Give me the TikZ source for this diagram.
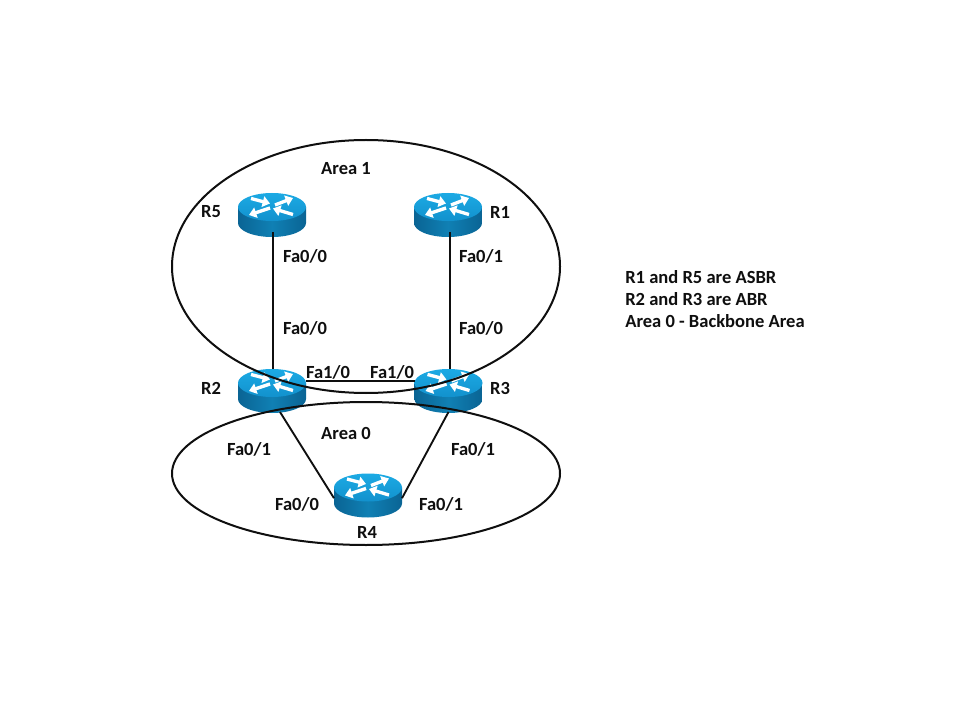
\documentclass[tikz,border=0pt]{standalone}
\usepackage{fontspec}
\setmainfont{Carlito}
\usetikzlibrary{arrows.meta}
\definecolor{routertop}{RGB}{28,170,228}
\definecolor{routertopdark}{RGB}{18,145,205}
\definecolor{routerbody}{RGB}{16,128,180}
\definecolor{routerbodydark}{RGB}{10,100,148}
\definecolor{ink}{RGB}{15,15,15}
\tikzset{
  x=0.75pt, y=-0.75pt,
  area/.style={draw=ink, line width=1.5pt},
  link/.style={draw=ink, line width=1.4pt},
  routerbox/.style={minimum width=51pt, minimum height=33pt, inner sep=0pt, outer sep=0pt},
  lbl/.style={font=\bfseries\fontsize{13.9}{16}\selectfont, text=ink, inner sep=0pt},
  flow/.style={white, line width=2.5pt, -{Triangle[width=8pt,length=5.5pt]}},
  router/.pic={
    % body: lower half of a flattened cylinder
    \shade[left color=routerbodydark, right color=routerbodydark, middle color=routerbody]
      (-34,-8) -- (-34,8) arc[start angle=180, end angle=0, x radius=34, y radius=14]
      -- (34,-8) -- cycle;
    % top face
    \shade[top color=routertop, bottom color=routertopdark]
      (0,-8) ellipse[x radius=34, y radius=14];
    % the four routing arrows
    \draw[flow] (-21,-16.5) -- (-2,-11.5);
    \draw[flow] (3,-10) -- (21,-17);
    \draw[flow] (-2,-7) -- (-23,0);
    \draw[flow] (21,-0.5) -- (1,-6.5);
  }
}
\begin{document}
\begin{tikzpicture}
  \useasboundingbox[fill=white] (0,0) rectangle (960,720);

  % routers
  \node[routerbox] (R5) at (272,215) {};
  \node[routerbox] (R1) at (448,215) {};
  \node[routerbox] (R2) at (272,391) {};
  \node[routerbox] (R3) at (448.5,391) {};
  \node[routerbox] (R4) at (368,495.5) {};
  \foreach \n in {R5,R1,R2,R3,R4} \pic at (\n) {router};

  % links between routers
  \coordinate (r5s) at ([xshift=1.1pt]R5.south);
  \coordinate (r1s) at ([xshift=1.4pt]R1.south);
  \draw[link, line width=1.5pt, shorten <=-3.5pt] (r5s) -- (r5s |- R2.north);
  \draw[link, shorten <=-3.5pt] (r1s) -- (r1s |- R3.north);
  \draw[link] (R2.east) ++(0,-10) coordinate (r2e) -- (r2e -| R3.west);
  \coordinate (r2s) at ([xshift=6pt]R2.south);
  \coordinate (r3s) at ([xshift=0pt]R3.south);
  \coordinate (r4w) at ([yshift=-2pt]R4.west);
  \coordinate (r4e) at ([yshift=-2pt]R4.east);
  \draw[link] (r2s) ++(0,-1) -- (r4w);
  \draw[link] (r3s) ++(0,-1) -- (r4e);

  % areas
  \node[inner sep=0pt] (a1) at (366,266.5) {};
  \node[inner sep=0pt] (a0) at (366,473.5) {};
  \draw[area] (a1) ellipse[x radius=194, y radius=126.5];
  \draw[area] (a0) ellipse[x radius=194, y radius=71.5];

  % labels
  \node[lbl] (tA1) at (346,169) {Area 1};
  \node[lbl] (tA0) at (346,433) {Area 0};
  \node[lbl] (t5) at (211,212) {R5};
  \node[lbl] (t1) at (500,212) {R1};
  \node[lbl] (t2) at (211,388) {R2};
  \node[lbl] (t3) at (500,388) {R3};
  \node[lbl] (t4) at (367,532) {R4};
  \node[lbl] (p1) at (305,256) {Fa0/0};
  \node[lbl] (p2) at (481,256) {Fa0/1};
  \node[lbl] (p3) at (305,328) {Fa0/0};
  \node[lbl] (p4) at (481,328) {Fa0/0};
  \node[lbl] (p5) at (328,372) {Fa1/0};
  \node[lbl] (p6) at (392,372) {Fa1/0};
  \node[lbl] (p7) at (249,449) {Fa0/1};
  \node[lbl] (p8) at (473,449) {Fa0/1};
  \node[lbl] (p9) at (297,504) {Fa0/0};
  \node[lbl] (p10) at (441,504) {Fa0/1};
  \node[lbl, anchor=north west, align=left, font=\bfseries\fontsize{13.9}{16.5}\selectfont] (note) at (625,270)
    {R1 and R5 are ASBR\\R2 and R3 are ABR\\Area 0 - Backbone Area};
\end{tikzpicture}
\end{document}
